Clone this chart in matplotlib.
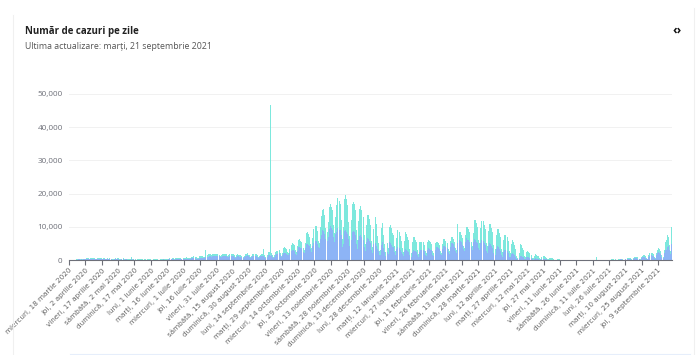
import numpy as np
import matplotlib.pyplot as plt
from matplotlib.lines import Line2D

# Cazuri zilnice (seria albastra), o linie = o saptamana (miercuri - marti), de la 18 martie 2020
cazuri = [
    40, 30, 50, 60, 70, 140, 190,
    150, 260, 260, 160, 290, 180, 250,
    250, 290, 340, 300, 260, 360, 330,
    300, 360, 320, 270, 270, 350, 370,
    380, 400, 270, 380, 330, 280, 270,
    330, 280, 360, 270, 190, 190, 270,
    370, 250, 320, 320, 220, 190, 270,
    290, 240, 280, 250, 180, 150, 190,
    210, 300, 170, 260, 190, 130, 160,
    180, 180, 190, 170, 140, 120, 170,
    150, 130, 190, 160, 150, 120, 120,
    170, 150, 180, 160, 150, 130, 180,
    190, 200, 250, 200, 210, 150, 170,
    260, 320, 250, 330, 320, 210, 350,
    460, 350, 320, 420, 330, 280, 300,
    390, 420, 460, 440, 400, 340, 450,
    550, 610, 770, 600, 510, 470, 480,
    700, 700, 800, 780, 670, 620, 860,
    1030, 1110, 1150, 1280, 1050, 1200, 1330,
    1350, 1230, 1360, 1340, 1150, 940, 1030,
    1300, 1230, 1350, 1380, 1200, 850, 1000,
    1400, 1300, 1400, 1250, 1000, 750, 1000,
    1300, 1200, 1100, 1100, 900, 730, 900,
    1300, 1400, 1500, 1200, 1000, 720, 900,
    1300, 1400, 1300, 1400, 1100, 700, 900,
    1200, 1300, 1400, 1300, 1100, 750, 1000,
    1700, 1700, 1400, 1600, 1100, 750, 1100,
    1700, 1800, 1800, 2100, 1600, 1000, 1500,
    2100, 2200, 2100, 2000, 1600, 1500, 2200,
    2900, 3100, 3000, 2800, 2000, 1600, 2900,
    4000, 4100, 3600, 3600, 2400, 2100, 3600,
    4800, 5000, 4600, 4200, 3400, 2600, 4300,
    5300, 5700, 5900, 5000, 3900, 3700, 6400,
    7700, 9000, 8700, 8000, 6400, 5900, 7000,
    9400, 10300, 9600, 9200, 7000, 5600, 8000,
    8600, 9700, 9200, 9000, 7500, 4000, 5000,
    8900, 9000, 8600, 7900, 6500, 4400, 6000,
    8400, 8700, 8400, 7500, 5000, 3500, 6200,
    7400, 7600, 7100, 6100, 4000, 2800, 5600,
    6800, 6400, 5900, 5200, 3000, 2200, 4900,
    5100, 4400, 3400, 2800, 1500, 1600, 4700,
    5400, 3600, 2400, 1200, 2500, 1800, 5500,
    5100, 4600, 4000, 3900, 2400, 1500, 3300,
    3900, 3600, 3200, 2600, 1900, 1300, 2800,
    3300, 3000, 2700, 2500, 1600, 1100, 2500,
    3000, 2900, 2700, 2500, 1500, 1000, 2600,
    3100, 3100, 3100, 2700, 1700, 1300, 3200,
    3600, 3300, 3200, 3000, 1700, 1400, 3100,
    4000, 3900, 3600, 3300, 2000, 1600, 3500,
    4400, 4300, 4100, 3700, 2400, 2000, 4100,
    5100, 5200, 4800, 4000, 2700, 2300, 5100,
    6200, 5900, 5400, 4700, 3300, 2800, 5600,
    6600, 6200, 6000, 5500, 3900, 3100, 5500,
    6300, 6000, 5600, 5200, 3600, 3200, 5100,
    6200, 5800, 5100, 4500, 2800, 2200, 4200,
    5100, 4800, 4200, 3800, 2200, 1600, 3300,
    4200, 4000, 3500, 2900, 1500, 1100, 2600,
    3100, 3000, 2700, 2200, 1100, 850, 1800,
    2300, 2000, 1600, 1100, 500, 300, 650,
    1400, 1300, 1100, 900, 500, 350, 900,
    1100, 900, 800, 600, 300, 200, 450,
    600, 500, 430, 350, 170, 150, 250,
    400, 330, 290, 250, 100, 70, 180,
    240, 220, 180, 140, 70, 50, 100,
    150, 130, 120, 100, 40, 30, 80,
    100, 90, 80, 60, 30, 20, 60,
    80, 70, 60, 50, 20, 15, 50,
    70, 60, 60, 50, 20, 15, 50,
    80, 80, 70, 60, 30, 20, 60,
    90, 100, 90, 70, 40, 30, 80,
    110, 120, 110, 100, 50, 40, 110,
    160, 170, 160, 140, 70, 60, 170,
    230, 260, 250, 200, 110, 90, 260,
    350, 400, 370, 310, 170, 130, 400,
    550, 600, 560, 480, 260, 200, 600,
    850, 950, 900, 770, 420, 320, 950,
    1300, 1450, 1350, 1200, 640, 500, 1450,
    2100, 2400, 2300, 1900, 1000, 780, 2200,
    3000, 3200, 3900, 4300, 3000, 1800, 4900,
]

# A doua serie (turcoaz), stivuita peste cazuri
a_doua = [
    20, 20, 30, 30, 40, 60, 80,
    100, 150, 180, 120, 200, 120, 170,
    200, 250, 280, 250, 200, 250, 260,
    250, 300, 260, 230, 200, 250, 300,
    300, 350, 250, 300, 260, 200, 220,
    280, 260, 300, 230, 160, 150, 220,
    320, 230, 280, 260, 180, 150, 220,
    260, 220, 250, 220, 150, 120, 170,
    200, 800, 180, 220, 160, 110, 150,
    170, 170, 180, 150, 120, 100, 150,
    140, 120, 170, 140, 130, 100, 110,
    150, 140, 160, 140, 130, 110, 160,
    170, 180, 220, 180, 180, 130, 150,
    220, 280, 220, 280, 270, 180, 300,
    350, 300, 280, 350, 280, 230, 260,
    330, 360, 390, 370, 330, 280, 380,
    400, 450, 550, 450, 380, 350, 360,
    500, 500, 550, 550, 450, 420, 2100,
    600, 650, 700, 750, 600, 650, 700,
    650, 600, 650, 650, 550, 450, 500,
    600, 550, 600, 650, 550, 400, 450,
    600, 550, 600, 550, 450, 350, 450,
    550, 500, 450, 450, 400, 300, 400,
    550, 600, 650, 500, 450, 300, 400,
    550, 600, 550, 600, 450, 300, 400,
    500, 550, 600, 2000, 450, 300, 450,
    700, 700, 45100, 700, 450, 300, 500,
    800, 1000, 1000, 1000, 700, 400, 700,
    1500, 1900, 1700, 1500, 900, 700, 1200,
    1800, 2000, 1900, 1700, 1100, 800, 1500,
    2000, 2200, 2100, 1900, 1200, 900, 1700,
    3300, 3600, 3200, 2800, 1600, 1200, 2500,
    4000, 4700, 4500, 3800, 2000, 1500, 3500,
    5500, 6000, 6600, 5500, 3200, 2500, 4500,
    6500, 6600, 6400, 6000, 3500, 2500, 5000,
    8000, 8900, 8500, 7800, 4500, 2500, 5000,
    9500, 10600, 9900, 8800, 5000, 3000, 6000,
    8500, 8900, 8600, 7500, 4000, 2500, 5500,
    8000, 8700, 8000, 7000, 3500, 2200, 5000,
    6800, 7200, 6500, 5500, 2800, 1800, 4500,
    8000, 6500, 4000, 2500, 1300, 1500, 5000,
    5900, 4000, 2500, 1300, 2600, 2000, 4500,
    5500, 5000, 4200, 3800, 2000, 1300, 3500,
    5200, 4800, 4000, 3300, 1800, 1200, 3000,
    5300, 5000, 4200, 3500, 1800, 1200, 3000,
    4100, 4000, 3500, 3000, 1500, 1000, 2800,
    2500, 2500, 2300, 2000, 1100, 800, 2200,
    2500, 2400, 2200, 2000, 1000, 800, 2000,
    1600, 1700, 1500, 1300, 800, 600, 1300,
    1900, 2000, 1800, 1600, 900, 700, 1600,
    1900, 1900, 1700, 1500, 900, 700, 5800,
    2400, 2500, 2200, 1900, 1100, 900, 2000,
    3500, 3700, 3400, 3000, 1600, 1300, 2800,
    5800, 6100, 5500, 4800, 2600, 2000, 4500,
    5700, 6100, 5600, 5000, 2500, 2000, 4500,
    5800, 6000, 5500, 4800, 2500, 1800, 4200,
    5100, 5300, 4800, 4200, 2000, 1400, 3500,
    4500, 4600, 4200, 3600, 1700, 1200, 3000,
    3800, 3600, 3000, 2200, 900, 500, 1500,
    3400, 3200, 2700, 2100, 900, 600, 1600,
    1700, 1600, 1400, 1100, 500, 350, 900,
    1300, 1200, 1000, 800, 400, 300, 600,
    900, 850, 700, 550, 250, 180, 400,
    560, 520, 430, 350, 150, 100, 250,
    150, 140, 120, 100, 50, 40, 80,
    100, 90, 80, 60, 30, 20, 60,
    90, 80, 70, 60, 25, 20, 50,
    80, 70, 70, 60, 25, 20, 50,
    90, 90, 80, 70, 30, 20, 60,
    1010, 100, 90, 70, 40, 30, 80,
    110, 120, 110, 100, 50, 40, 110,
    150, 160, 150, 130, 60, 50, 150,
    200, 220, 210, 180, 90, 80, 220,
    280, 320, 300, 250, 130, 100, 320,
    450, 500, 470, 400, 200, 150, 480,
    550, 650, 600, 500, 280, 200, 600,
    750, 850, 800, 700, 350, 250, 800,
    1000, 1200, 1100, 900, 450, 350, 1000,
    2500, 3000, 3700, 2600, 1500, 900, 5200,
]

# Etichete pe axa X (din 15 in 15 zile)
etichete = [
    'miercuri, 18 martie 2020', 'joi, 2 aprilie 2020', 'vineri, 17 aprilie 2020',
    'sâmbătă, 2 mai 2020', 'duminică, 17 mai 2020', 'luni, 1 iunie 2020',
    'marți, 16 iunie 2020', 'miercuri, 1 iulie 2020', 'joi, 16 iulie 2020',
    'vineri, 31 iulie 2020', 'sâmbătă, 15 august 2020', 'duminică, 30 august 2020',
    'luni, 14 septembrie 2020', 'marți, 29 septembrie 2020', 'miercuri, 14 octombrie 2020',
    'joi, 29 octombrie 2020', 'vineri, 13 noiembrie 2020', 'sâmbătă, 28 noiembrie 2020',
    'duminică, 13 decembrie 2020', 'luni, 28 decembrie 2020', 'marți, 12 ianuarie 2021',
    'miercuri, 27 ianuarie 2021', 'joi, 11 februarie 2021', 'vineri, 26 februarie 2021',
    'sâmbătă, 13 martie 2021', 'duminică, 28 martie 2021', 'luni, 12 aprilie 2021',
    'marți, 27 aprilie 2021', 'miercuri, 12 mai 2021', 'joi, 27 mai 2021',
    'vineri, 11 iunie 2021', 'sâmbătă, 26 iunie 2021', 'duminică, 11 iulie 2021',
    'luni, 26 iulie 2021', 'marți, 10 august 2021', 'miercuri, 25 august 2021',
    'joi, 9 septembrie 2021',
]
valori_y = [0, 10000, 20000, 30000, 40000, 50000]

plt.rcParams['font.family'] = ['Open Sans', 'DejaVu Sans']

fig = plt.figure(figsize=(7, 3.55), dpi=100)
ax = fig.add_axes([69 / 700, 1 - 260.3 / 355, 603.3 / 700, 166.6 / 355])

n = len(cazuri)
x = np.arange(n) + 0.5
ax.bar(x, cazuri, width=0.92, color='#8db4f6', linewidth=0, zorder=2)
ax.bar(x, a_doua, bottom=cazuri, width=0.92, color='#7de8dd', linewidth=0, zorder=2)

ax.set_xlim(0, n)
ax.set_ylim(0, 50000)

ax.set_xticks(np.arange(0, n, 15))
ax.set_xticklabels(etichete, rotation=45, ha='right', rotation_mode='anchor',
                   fontsize=5.2, color='#666666', family='DejaVu Sans')
ax.tick_params(axis='x', length=3.5, width=0.8, color='#6e7079', pad=1.5)

ax.set_yticks(valori_y)
ax.set_yticklabels([f'{v:,}' for v in valori_y], fontsize=5.9, color='#6e7079')
ax.tick_params(axis='y', length=0, pad=4.5)

ax.grid(axis='y', color='#f1f1f1', linewidth=0.7, zorder=0)
for s in ['top', 'right', 'left']:
    ax.spines[s].set_visible(False)
ax.spines['bottom'].set_color('#6e7079')
ax.spines['bottom'].set_linewidth(0.8)

# Titlu si subtitlu
fig.text(25 / 700, 1 - 31.5 / 355, 'Număr de cazuri pe zile', fontsize=7,
         fontweight='bold', color='#222222', va='center')
fig.text(25 / 700, 1 - 46.5 / 355, 'Ultima actualizare: marți, 21 septembrie 2021',
         fontsize=6.35, color='#555555', va='center')
fig.text(677 / 700, 1 - 30 / 355, '‹›', fontsize=9, fontweight='bold',
         color='#111111', ha='center', va='center')

# Marginile cardului
fig.add_artist(Line2D([13 / 700, 13 / 700], [0, 1 - 15 / 355], color='#f0f0f0', lw=0.8))
fig.add_artist(Line2D([694 / 700, 694 / 700], [0, 1 - 8 / 355], color='#f0f0f0', lw=0.8))
fig.add_artist(Line2D([70 / 700, 690 / 700], [1.5 / 355, 1.5 / 355], color='#e6eefb', lw=0.8))

fig.savefig('out.png', dpi=100, facecolor='white')
